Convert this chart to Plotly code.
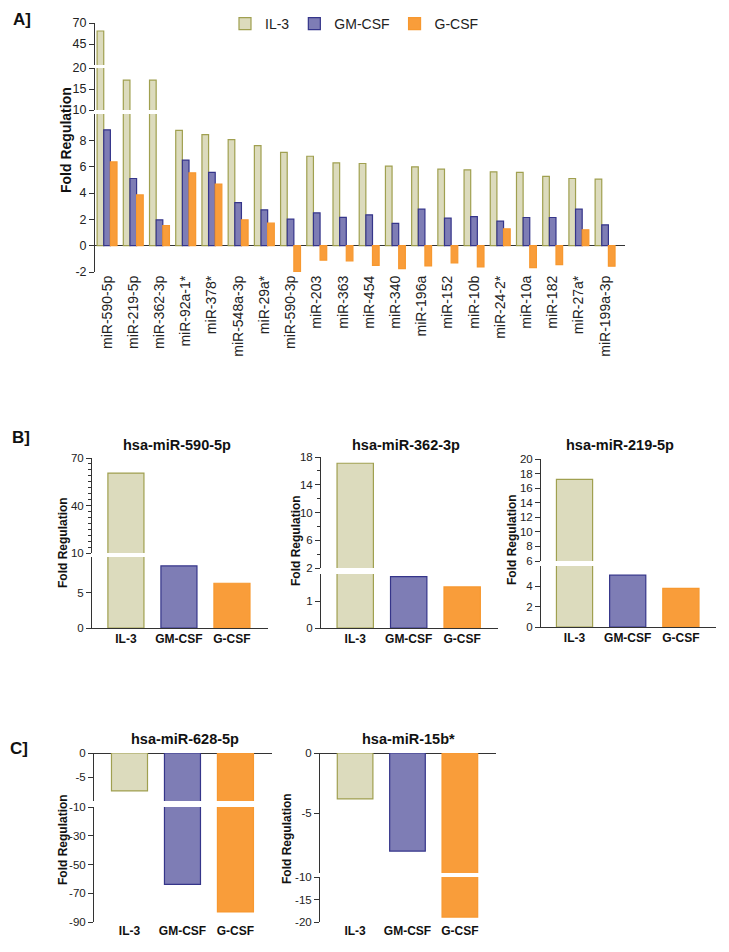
import plotly.graph_objects as go

W, H = 729, 952
OFF = 8  # the page body margin shifts the figure by this many pixels

# ---------------- data ----------------
mirnas = ["miR-590-5p", "miR-219-5p", "miR-362-3p", "miR-92a-1*", "miR-378*",
          "miR-548a-3p", "miR-29a*", "miR-590-3p", "miR-203", "miR-363",
          "miR-454", "miR-340", "miR-196a", "miR-152", "miR-10b",
          "miR-24-2*", "miR-10a", "miR-182", "miR-27a*", "miR-199a-3p"]
il3 = [60.5, 17.1, 17.1, 8.75, 8.43, 8.05, 7.6, 7.09, 6.79, 6.29,
       6.24, 6.04, 5.99, 5.81, 5.76, 5.61, 5.56, 5.26, 5.1, 5.06]
gmcsf = [8.8, 5.1, 1.96, 6.5, 5.56, 3.27, 2.72, 2.01, 2.49, 2.15,
         2.34, 1.69, 2.77, 2.09, 2.21, 1.86, 2.14, 2.14, 2.77, 1.58]
gcsf = [6.36, 3.85, 1.53, 5.53, 4.68, 1.96, 1.71, -2.0, -1.1, -1.15,
        -1.49, -1.74, -1.54, -1.31, -1.62, 1.28, -1.67, -1.44, 1.21, -1.56]

groups = ["IL-3", "GM-CSF", "G-CSF"]
b_590_5p = [60.5, 8.75, 6.3]
b_362_3p = [17.1, 1.9, 1.52]
b_219_5p = [17.2, 5.1, 3.8]
c_628_5p = [-7.9, -63.8, -83.0]
c_15b = [-3.83, -8.17, -18.9]

FILL = {"IL-3": "#dcdbbd", "GM-CSF": "#7e7db5", "G-CSF": "#f99d3a"}
LINE = {"IL-3": "#a0a050", "GM-CSF": "#35358a", "G-CSF": "#f7982f"}
FONT = "Liberation Sans, Arial, sans-serif"
AX = "#333333"


def dx(a, b):
    return [(a - OFF) / W, (b - OFF) / W]


def dy(top, bottom):
    return [1 - (bottom - OFF) / H, 1 - (top - OFF) / H]


def in_seg(vals, rng):
    # keep only bars whose extent (0..v) reaches into this axis segment
    lo, hi = rng
    return [v if (max(0, v) > lo and min(0, v) < hi) else None for v in vals]


fig = go.Figure()
layout = {}
annotations = []


def ann(text, x, y, size, angle=0, bold=True):
    annotations.append(dict(
        text=("<b>%s</b>" % text) if bold else text,
        x=(x - OFF) / W, y=1 - (y - OFF) / H,
        xref="paper", yref="paper", showarrow=False, textangle=angle,
        xanchor="center", yanchor="middle",
        font=dict(family=FONT, size=size, color="#111")))


def yax(dom, rng, tickvals, anchor, zeroline=False, minor=None, size=11.5):
    d = dict(domain=dy(*dom), range=rng, tickvals=tickvals,
             ticktext=[str(v) for v in tickvals], anchor=anchor,
             showline=True, linecolor=AX, linewidth=1, ticks="outside",
             ticklen=5, tickwidth=1, tickcolor=AX, showgrid=False,
             zeroline=zeroline, zerolinecolor=AX, zerolinewidth=1,
             automargin=False,
             tickfont=dict(family=FONT, size=size, color="#222"), fixedrange=True)
    if minor:
        d["minor"] = dict(ticks="outside", ticklen=3, tickcolor=AX,
                          tick0=minor[0], dtick=minor[1], showgrid=False)
    return d


# ---------------- Panel A ----------------
layout["xaxis"] = dict(domain=dx(95, 625), anchor="y", type="category",
                       categoryorder="array", categoryarray=mirnas,
                       range=[-0.46, 19.76], tickangle=-90, showline=False,
                       ticks="", showgrid=False, zeroline=False, automargin=False,
                       tickfont=dict(family=FONT, size=14, color="#222"),
                       fixedrange=True)
segsA = [("y", (114, 272), [-2, 10], [-2, 0, 2, 4, 6, 8], True),
         ("y2", (68, 110), [10, 20], [10, 15, 20], False),
         ("y3", (23, 65), [20, 70], [45, 70], False)]
for i, (yn, dom, rng, tv, zl) in enumerate(segsA):
    key = "yaxis" if yn == "y" else "yaxis" + yn[1:]
    layout[key] = yax(dom, rng, tv, "x", zeroline=zl, size=12.5)
    for name, vals in (("IL-3", il3), ("GM-CSF", gmcsf), ("G-CSF", gcsf)):
        fig.add_trace(go.Bar(
            x=mirnas, y=in_seg(vals, rng), name=name, xaxis="x", yaxis=yn,
            marker=dict(color=FILL[name], line=dict(color=LINE[name], width=1.2)),
            legendgroup=name, showlegend=(i == 0), offsetgroup=name))

# ---------------- Panels B and C ----------------
panels = [
    (b_590_5p, (92, 268), [-0.64, 2.68], "hsa-miR-590-5p", (177, 445), (63, 542),
     [((557, 628), [0, 10], [0, 5], None, False),
      ((458, 553), [10, 70], [10, 40, 70], (10, 3.75), False)], True),
    (b_362_3p, (321, 498), [-0.64, 2.67], "hsa-miR-362-3p", (406, 445), (296, 541),
     [((574, 628), [0, 2], [0, 1], None, False),
      ((457, 568), [2, 18], [2, 6, 10, 14, 18], (2, 2), False)], True),
    (b_219_5p, (541, 716), [-0.63, 2.66], "hsa-miR-219-5p", (620, 445), (512, 540),
     [((566, 627), [0, 6], [0, 2, 4], None, False),
      ((459, 561), [6, 20], [6, 8, 10, 12, 14, 16, 18, 20], None, False)], True),
    (c_628_5p, (94, 272), [-0.67, 2.69], "hsa-miR-628-5p", (185, 739), (63, 839),
     [((807, 922), [-90, -10], [-10, -30, -50, -70, -90], None, False),
      ((753, 801), [-10, 0], [0, -5], None, True)], False),
    (c_15b, (320, 496), [-0.67, 2.69], "hsa-miR-15b*", (408, 739), (287, 839),
     [((877, 922), [-20, -10], [-10, -15, -20], None, False),
      ((753, 873), [-10, 0], [0, -5], None, True)], False),
]

xi, yi = 2, 4
for vals, xd, xr, title, tpos, ytpos, segs, xline in panels:
    xn = "x%d" % xi
    lower_y = "y%d" % yi
    layout["xaxis%d" % xi] = dict(
        domain=dx(*xd), anchor=lower_y, type="category",
        categoryorder="array", categoryarray=groups, range=xr,
        showline=xline, linecolor=AX, linewidth=1, ticks="", showgrid=False,
        zeroline=False, automargin=False,
        tickfont=dict(family=FONT, size=12, color="#111", weight="bold"),
        fixedrange=True)
    for dom, rng, tv, mn, zl in segs:
        yn = "y%d" % yi
        layout["yaxis%d" % yi] = yax(dom, rng, tv, xn, zeroline=zl, minor=mn)
        fig.add_trace(go.Bar(
            x=groups, y=in_seg(vals, rng), xaxis=xn, yaxis=yn, width=0.68,
            marker=dict(color=[FILL[gname] for gname in groups],
                        line=dict(color=[LINE[gname] for gname in groups], width=1.2)),
            showlegend=False))
        yi += 1
    ann(title, tpos[0], tpos[1], 14.5)
    ann("Fold Regulation", ytpos[0], ytpos[1], 12, angle=-90)
    xi += 1

ann("Fold Regulation", 66, 140, 14, angle=-90)
ann("A]", 22, 20, 17)
ann("B]", 21, 438, 17)
ann("C]", 19, 748, 17)

fig.update_layout(
    width=W, height=H,
    margin=dict(l=0, r=0, t=0, b=0, pad=0, autoexpand=False),
    paper_bgcolor="white", plot_bgcolor="white",
    barmode="group", bargap=0.24, bargroupgap=0.0,
    font=dict(family=FONT, color="#222"),
    legend=dict(orientation="h", x=(225 - OFF) / W, y=1 - (8 - OFF) / H,
                xanchor="left", yanchor="top",
                font=dict(family=FONT, size=14, color="#222"),
                itemwidth=30, bgcolor="rgba(0,0,0,0)", tracegroupgap=0),
    annotations=annotations,
    **layout)

fig.write_html("out.html")
